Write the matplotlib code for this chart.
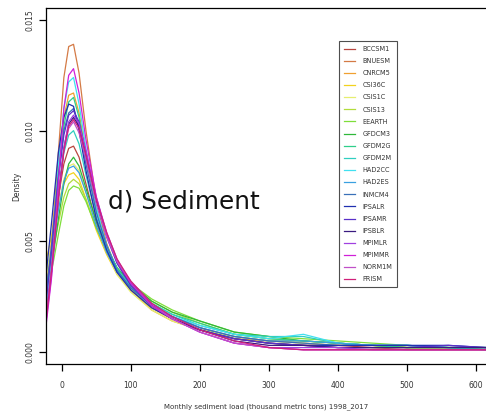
import numpy as np
import matplotlib
matplotlib.use("Agg")
import matplotlib.pyplot as plt

x_grid = [-25, -15, -5, 3, 10, 17, 25, 35, 50, 65, 80, 100, 130, 160, 200,
          250, 300, 350, 400, 450, 500, 560, 615]

models = ["BCCSM1", "BNUESM", "CNRCM5", "CSI36C", "CSIS1C", "CSIS13", "EEARTH",
          "GFDCM3", "GFDM2G", "GFDM2M", "HAD2CC", "HAD2ES", "INMCM4", "IPSALR",
          "IPSAMR", "IPSBLR", "MPIMLR", "MPIMMR", "NORM1M", "PRISM"]

colors = ["#b8463f", "#d47a45", "#f0a030", "#f2d21e", "#e6ee70", "#b2dc3c",
          "#7ede3a", "#2fb83a", "#2fcf8a", "#30cfc0", "#40e0f0", "#3aa0e0",
          "#3a70b8", "#2030b0", "#5a30c8", "#3a1a80", "#a040e0", "#d020d8",
          "#c050c8", "#d0207a"]

# density values in units of 1e-4
dens = {
    "BCCSM1": [20, 46, 70, 85, 92, 93, 88, 76, 58, 45, 36, 29, 21, 16, 11, 6, 4, 3, 3, 2, 2, 2, 1],
    "BNUESM": [12, 45, 90, 124, 138, 139, 126, 100, 68, 49, 37, 28, 20, 15, 10, 6, 4, 3, 2, 2, 1, 1, 1],
    "CNRCM5": [22, 50, 84, 106, 116, 117, 108, 90, 65, 48, 37, 28, 19, 14, 10, 6, 5, 4, 3, 3, 2, 2, 2],
    "CSI36C": [38, 52, 66, 76, 80, 81, 78, 69, 55, 44, 35, 28, 20, 15, 10, 7, 5, 5, 4, 3, 2, 2, 1],
    "CSIS1C": [30, 48, 66, 78, 84, 85, 82, 72, 57, 45, 35, 27, 19, 14, 10, 7, 5, 4, 3, 3, 2, 1, 1],
    "CSIS13": [25, 42, 58, 70, 76, 78, 76, 69, 56, 46, 38, 31, 23, 18, 13, 8, 6, 5, 4, 3, 2, 2, 1],
    "EEARTH": [20, 36, 53, 66, 73, 75, 74, 68, 56, 46, 38, 31, 24, 19, 14, 9, 7, 6, 5, 4, 3, 2, 2],
    "GFDCM3": [18, 38, 60, 76, 85, 88, 84, 74, 59, 47, 38, 31, 23, 18, 14, 9, 7, 5, 4, 3, 2, 2, 1],
    "GFDM2G": [15, 42, 78, 102, 113, 115, 106, 88, 64, 48, 38, 30, 22, 17, 13, 8, 6, 5, 4, 3, 2, 2, 1],
    "GFDM2M": [18, 42, 72, 90, 98, 100, 94, 80, 61, 47, 37, 30, 22, 17, 12, 8, 7, 7, 4, 3, 3, 2, 2],
    "HAD2CC": [14, 42, 84, 110, 122, 124, 112, 92, 65, 48, 37, 29, 21, 16, 12, 8, 6, 8, 4, 3, 3, 2, 2],
    "HAD2ES": [24, 44, 64, 77, 83, 84, 81, 72, 57, 45, 36, 29, 21, 16, 11, 7, 5, 5, 4, 3, 3, 2, 2],
    "INMCM4": [20, 48, 80, 100, 108, 110, 102, 85, 63, 48, 37, 29, 21, 16, 11, 7, 5, 4, 3, 3, 3, 2, 2],
    "IPSALR": [28, 58, 90, 106, 112, 111, 100, 82, 60, 46, 36, 28, 20, 15, 10, 6, 4, 3, 3, 3, 3, 3, 2],
    "IPSAMR": [16, 45, 78, 98, 107, 109, 104, 90, 68, 52, 40, 30, 21, 15, 10, 6, 4, 3, 2, 2, 2, 3, 2],
    "IPSBLR": [10, 36, 70, 92, 103, 106, 102, 89, 68, 53, 41, 31, 21, 15, 10, 5, 3, 3, 2, 2, 2, 2, 2],
    "MPIMLR": [8, 34, 68, 92, 104, 107, 103, 91, 70, 54, 42, 31, 21, 15, 9, 4, 2, 2, 2, 1, 1, 1, 1],
    "MPIMMR": [6, 33, 76, 110, 125, 128, 117, 96, 70, 53, 41, 31, 21, 15, 9, 4, 2, 1, 1, 1, 1, 1, 1],
    "NORM1M": [10, 38, 70, 91, 101, 104, 99, 87, 67, 52, 41, 32, 22, 15, 9, 4, 2, 1, 1, 1, 1, 1, 1],
    "PRISM": [8, 36, 69, 91, 102, 105, 101, 89, 69, 54, 42, 32, 22, 16, 10, 5, 2, 1, 1, 1, 1, 1, 1],
}

x_ticks = [0, 100, 200, 300, 400, 500, 600]
y_ticks = [0.000, 0.005, 0.010, 0.015]

fig = plt.figure(figsize=(4.86, 4.18), dpi=100)
ax = fig.add_axes([45.5 / 486, 1 - 364 / 418, 1 - 45.5 / 486, (364 - 8) / 418])

for name, col in zip(models, colors):
    ax.plot(x_grid, np.array(dens[name]) * 1e-4, color=col, lw=0.9, label=name)

ax.set_xlim(-23.6, 614.5)
ax.set_ylim(-0.000542, 0.01554)
ax.spines["right"].set_visible(False)
for s in ["left", "bottom", "top"]:
    ax.spines[s].set_linewidth(0.9)

ax.set_xticks(x_ticks)
ax.set_xticklabels([str(v) for v in x_ticks], fontsize=5.5, color="#333333")
ax.set_yticks(y_ticks)
ax.set_yticklabels([f"{v:.3f}" for v in y_ticks], fontsize=5.5, color="#333333",
                   rotation=90, va="center")
ax.tick_params(axis="x", length=5, width=0.9, pad=7)
ax.tick_params(axis="y", length=5, width=0.9, pad=3)

ax.set_xlabel("Monthly sediment load (thousand metric tons) 1998_2017", fontsize=5,
              color="#333333", labelpad=10)
ax.set_ylabel("Density", fontsize=5.5, color="#333333", labelpad=3)

ax.text(66.5, 0.00678, "d) Sediment", fontsize=17.8, va="center", ha="left", color="#111111")

leg = ax.legend(loc="upper left", bbox_to_anchor=(339 / 486, 1 - 41 / 418),
                bbox_transform=fig.transFigure, fontsize=4.7,
                frameon=True, fancybox=False, handlelength=1.7, handletextpad=1.1,
                labelspacing=0.94, borderpad=0.75, borderaxespad=0)
leg.get_frame().set_edgecolor("#222222")
leg.get_frame().set_linewidth(0.8)
for t in leg.get_texts():
    t.set_color("#333333")

fig.savefig("out.png", dpi=100)
